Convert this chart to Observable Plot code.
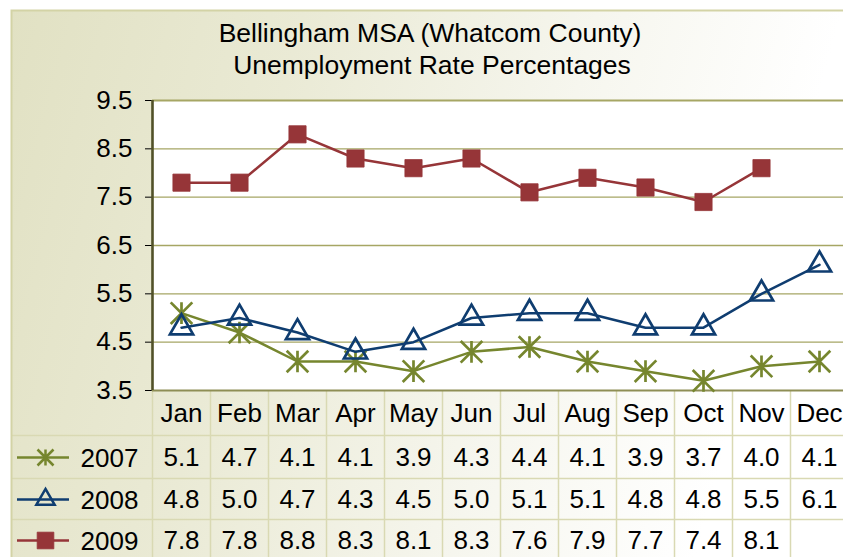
<!DOCTYPE html>
<html>
<head>
<meta charset="utf-8">
<script src="https://cdn.jsdelivr.net/npm/d3@7"></script>
<script src="https://cdn.jsdelivr.net/npm/@observablehq/plot@0.6"></script>
<style>
  html, body { margin: 0; padding: 0; background: #fff; }
  #chart { width: 843px; height: 557px; overflow: hidden; }
</style>
</head>
<body>
<div id="chart"></div>
<script>
// ---- data ----
const months = ["Jan","Feb","Mar","Apr","May","Jun","Jul","Aug","Sep","Oct","Nov","Dec"];
const years = ["2007", "2008", "2009"];
const values2007 = [5.1, 4.7, 4.1, 4.1, 3.9, 4.3, 4.4, 4.1, 3.9, 3.7, 4.0, 4.1];
const values2008 = [4.8, 5.0, 4.7, 4.3, 4.5, 5.0, 5.1, 5.1, 4.8, 4.8, 5.5, 6.1];
const values2009 = [7.8, 7.8, 8.8, 8.3, 8.1, 8.3, 7.6, 7.9, 7.7, 7.4, 8.1];
const yTicks = [3.5, 4.5, 5.5, 6.5, 7.5, 8.5, 9.5];
const titleLine1 = "Bellingham MSA (Whatcom County)";
const titleLine2 = "Unemployment Rate Percentages";

// ---- styles ----
const colors = ["#76862e", "#0f3d70", "#963538"];
const gridColor = "#a6a664";
const tableLine = "#d9d9b3";

const asterisk = {
  draw(ctx, size) {
    const r = Math.sqrt(size / Math.PI);
    ctx.moveTo(0, -r); ctx.lineTo(0, r);
    ctx.moveTo(-r, -r); ctx.lineTo(r, r);
    ctx.moveTo(-r, r); ctx.lineTo(r, -r);
  }
};

const allValues = [values2007, values2008, values2009];
const series = years.map((year, i) =>
  allValues[i].map((v, j) => ({year, month: months[j], value: v}))
);

const symbols = [asterisk, "triangle", "square"];
const markerR = [10.8, 8.6, 9.7];
const legendR = [8, 6.8, 9.4];
const markerFill = ["none", "none", colors[2]];
const markerStroke = [colors[0], colors[1], colors[2]];
const rowDy = [67, 109, 150];

const marks = [];
// plot area
marks.push(Plot.frame({fill: "white", stroke: "none"}));
// gridlines
marks.push(Plot.ruleY(yTicks.slice(1, -1), {stroke: gridColor, strokeWidth: 1.4}));
marks.push(Plot.ruleY([yTicks[yTicks.length - 1]], {stroke: gridColor, strokeWidth: 2}));
// table vertical lines (band boundaries)
marks.push(Plot.ruleX(months, {x: d => d, dx: -29, insetTop: 290, insetBottom: -167, stroke: tableLine, strokeWidth: 1.5}));
// table horizontal lines
for (const dy of [45, 88, 129]) {
  marks.push(Plot.ruleY([yTicks[0]], {dy, insetLeft: -141, insetRight: -10, stroke: tableLine, strokeWidth: 1.5}));
}
// axes lines
marks.push(Plot.ruleY([yTicks[0]], {stroke: "#8e8e55", strokeWidth: 2.2}));
marks.push(Plot.ruleX([months[0]], {x: d => d, dx: -29, stroke: "#515128", strokeWidth: 2.6}));
// outer border
marks.push(Plot.frame({stroke: "#d3d3a6", strokeWidth: 2, insetLeft: -141, insetTop: -90, insetRight: -20, insetBottom: -200}));

// series lines and markers
series.forEach((data, i) => {
  marks.push(Plot.line(data, {x: "month", y: "value", stroke: colors[i], strokeWidth: 2.5}));
  marks.push(Plot.dot(data, {x: "month", y: "value", symbol: symbols[i], r: markerR[i],
    fill: markerFill[i], stroke: markerStroke[i], strokeWidth: i === 2 ? 0.8 : 2.7}));
  // table values
  marks.push(Plot.text(data, {x: "month", text: d => d.value.toFixed(1), frameAnchor: "bottom", lineAnchor: "middle", dy: rowDy[i], fill: "#000"}));
  // legend key
  marks.push(Plot.ruleY([yTicks[0]], {dy: rowDy[i], insetLeft: -135, insetRight: 774, stroke: colors[i], strokeWidth: 2.6}));
  marks.push(Plot.dot([years[i]], {frameAnchor: "bottom-left", dx: -107, dy: rowDy[i], symbol: symbols[i], r: legendR[i],
    fill: markerFill[i], stroke: markerStroke[i], strokeWidth: i === 2 ? 0.8 : 2.5}));
  marks.push(Plot.text([years[i]], {text: d => d, frameAnchor: "bottom-left", lineAnchor: "middle", dx: -72, dy: rowDy[i] + 1, textAnchor: "start", fill: "#000"}));
});

// month header
marks.push(Plot.text(months, {x: d => d, text: d => d, frameAnchor: "bottom", lineAnchor: "middle", dy: 23, fill: "#000"}));
// title
marks.push(Plot.text([titleLine1], {text: d => d, frameAnchor: "top", lineAnchor: "middle", dx: -68, dy: -67, fill: "#000", fontSize: 26.5}));
marks.push(Plot.text([titleLine2], {text: d => d, frameAnchor: "top", lineAnchor: "middle", dx: -66, dy: -35, fill: "#000", fontSize: 26.5}));

const chart = Plot.plot({
  width: 843,
  height: 557,
  marginTop: 100,
  marginBottom: 167,
  marginLeft: 152,
  marginRight: 0,
  style: {
    fontFamily: "'Liberation Sans', Arial, sans-serif",
    fontSize: "26px",
    color: "#000",
    background: "linear-gradient(105deg, #e1e1c3 0%, #eaead5 30%, #f6f6ee 60%, #ffffff 85%) 11px 10px / 832px 547px no-repeat, #ffffff",
    overflow: "hidden"
  },
  x: {type: "band", domain: months, range: [152, 848], padding: 0, axis: null},
  y: {domain: [3.5, 9.5], range: [390, 100], ticks: yTicks, tickFormat: d => d.toFixed(1),
      tickSize: 7, tickPadding: 13, label: null},
  marks
});
document.getElementById("chart").appendChild(chart);
</script>
</body>
</html>
